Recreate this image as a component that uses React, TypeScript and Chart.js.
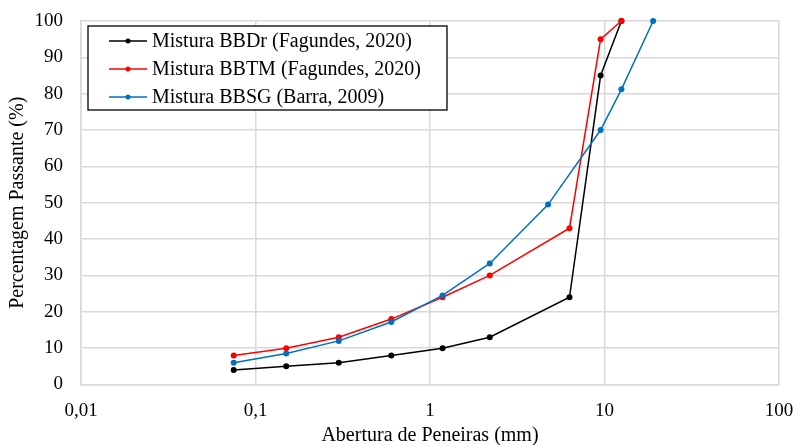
import React, { useEffect, useRef } from "react";
import { Chart, registerables } from "chart.js";

Chart.register(...registerables);

const labels = [
  "Mistura BBDr (Fagundes, 2020)",
  "Mistura BBTM (Fagundes, 2020)",
  "Mistura BBSG (Barra, 2009)",
];
const colors = ["#000000", "#ff0000", "#0070c0"];

const bbdrX = [0.075, 0.15, 0.3, 0.6, 1.18, 2.2, 6.3, 9.5, 12.5];
const bbdrY = [4, 5, 6, 8, 10, 13, 24, 85, 100];

const bbtmX = [0.075, 0.15, 0.3, 0.6, 1.18, 2.2, 6.3, 9.5, 12.5];
const bbtmY = [8, 10, 13, 18, 24, 30, 43, 95, 100];

const bbsgX = [0.075, 0.15, 0.3, 0.6, 1.18, 2.2, 4.75, 9.5, 12.5, 19];
const bbsgY = [6, 8.5, 12, 17.2, 24.5, 33.3, 49.5, 70, 81.2, 100];

const xTicks = [0.01, 0.1, 1, 10, 100];
const yTicks = [0, 10, 20, 30, 40, 50, 60, 70, 80, 90, 100];

const FONT = "'Liberation Serif', 'Times New Roman', serif";
const GRID = "#d9d9d9";

const legendPlugin = {
  id: "boxLegend",
  afterDraw(chart: any) {
    const ctx = chart.ctx;
    const left = 88, top = 26, right = 447, bottom = 110;
    ctx.save();
    ctx.fillStyle = "#ffffff";
    ctx.fillRect(left, top, right - left, bottom - top);
    ctx.strokeStyle = "#000000";
    ctx.lineWidth = 1.3;
    ctx.strokeRect(left, top, right - left, bottom - top);
    const rows = [41, 69, 97];
    chart.data.datasets.forEach((ds: any, i: number) => {
      const y = rows[i];
      ctx.strokeStyle = ds.borderColor;
      ctx.lineWidth = 1.5;
      ctx.beginPath();
      ctx.moveTo(109, y);
      ctx.lineTo(147, y);
      ctx.stroke();
      ctx.fillStyle = ds.borderColor;
      ctx.beginPath();
      ctx.arc(128, y, 2.5, 0, Math.PI * 2);
      ctx.fill();
      ctx.fillStyle = "#000000";
      ctx.font = `20px ${FONT}`;
      ctx.textBaseline = "middle";
      ctx.textAlign = "left";
      ctx.fillText(ds.label, 152, y + 1);
    });
    ctx.restore();
  },
};

function toPoints(xs: number[], ys: number[]) {
  return xs.map((x, i) => ({ x, y: ys[i] }));
}

function zeroPad(s: any) {
  s.paddingLeft = 0;
  s.paddingRight = 0;
  s.paddingTop = 0;
  s.paddingBottom = 0;
}

export default function App() {
  const ref = useRef<HTMLCanvasElement>(null);
  useEffect(() => {
    document.body.style.margin = "0";
    const series = [
      toPoints(bbdrX, bbdrY),
      toPoints(bbtmX, bbtmY),
      toPoints(bbsgX, bbsgY),
    ];
    const chart = new Chart(ref.current!, {
      type: "line",
      data: {
        datasets: series.map((d, i) => ({
          label: labels[i],
          data: d,
          order: 2 - i,
          borderColor: colors[i],
          backgroundColor: colors[i],
          pointBackgroundColor: colors[i],
          pointBorderColor: colors[i],
          pointRadius: 3,
          pointBorderWidth: 0,
          borderWidth: 1.5,
          tension: 0,
          fill: false,
          clip: false,
        })),
      },
      options: {
        animation: false,
        responsive: false,
        maintainAspectRatio: false,
        layout: { padding: { top: 21, right: 16, left: 0, bottom: 0 } },
        plugins: {
          legend: { display: false },
          tooltip: { enabled: false },
        },
        scales: {
          x: {
            type: "logarithmic",
            min: 0.01,
            max: 100,
            afterFit: (s: any) => {
              s.height = 60.5;
              zeroPad(s);
            },
            afterBuildTicks: (s: any) => {
              s.ticks = xTicks.map((v) => ({ value: v }));
            },
            grid: { color: GRID, lineWidth: 1.5, drawTicks: false },
            border: { color: GRID, width: 1.5 },
            ticks: {
              autoSkip: false,
              maxRotation: 0,
              padding: 15,
              color: "#000000",
              font: { family: FONT, size: 19 },
              callback: (v: any) => String(v).replace(".", ","),
            },
            title: {
              display: true,
              text: "Abertura de Peneiras (mm)",
              color: "#000000",
              font: { family: FONT, size: 20 },
              padding: { top: 0, bottom: -3 },
            },
          },
          y: {
            min: 0,
            max: 100,
            afterFit: (s: any) => {
              s.width = 81;
              zeroPad(s);
            },
            afterBuildTicks: (s: any) => {
              s.ticks = yTicks.map((v) => ({ value: v }));
            },
            grid: { color: GRID, lineWidth: 1.5, drawTicks: false },
            border: { color: GRID, width: 1.5 },
            ticks: {
              padding: 18,
              color: "#000000",
              font: { family: FONT, size: 19 },
            },
            title: {
              display: true,
              text: "Percentagem Passante (%)",
              color: "#000000",
              font: { family: FONT, size: 20 },
              padding: { top: 6, bottom: 0 },
            },
          },
        },
      },
      plugins: [legendPlugin],
    });
    return () => chart.destroy();
  }, []);
  return <canvas ref={ref} width={795} height={445} style={{ display: "block" }} />;
}
